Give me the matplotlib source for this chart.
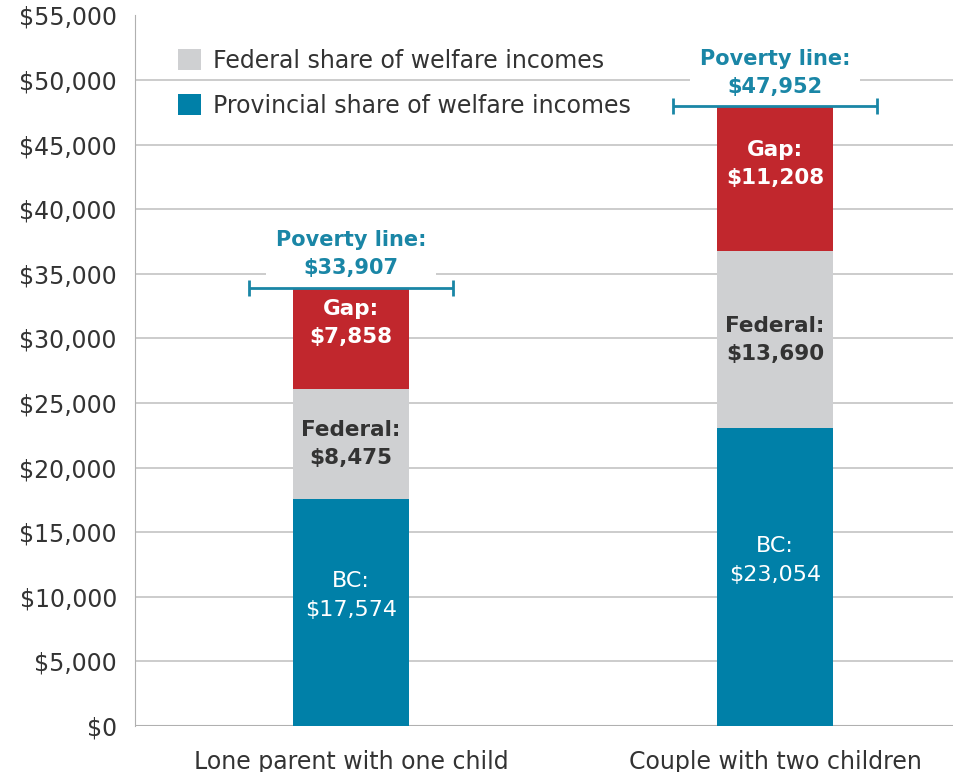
import matplotlib.pyplot as plt
from matplotlib.patches import Patch
from matplotlib.ticker import FuncFormatter

categories = ["Lone parent with one child", "Couple with two children"]
provincial = [17574, 23054]
federal = [8475, 13690]
gap = [7858, 11208]
poverty_line = [33907, 47952]

teal = "#0080a8"
grey = "#cfd0d2"
red = "#c1272d"
label_teal = "#1a86a6"

plt.rcParams["font.family"] = ["DejaVu Sans"]

fig = plt.figure(figsize=(9.54, 7.72), dpi=100)
ax = fig.add_axes([0.1415, 0.0596, 0.8585, 0.9205])

x = list(range(len(categories)))
width = 0.274

ax.bar(x, provincial, width, color=teal, zorder=3)
ax.bar(x, federal, width, bottom=provincial, color=grey, zorder=3)
bottoms = [p + f for p, f in zip(provincial, federal)]
ax.bar(x, gap, width, bottom=bottoms, color=red, zorder=3)

for i in x:
    ax.annotate(f"BC:\n${provincial[i]:,}", (i, provincial[i] / 2), xytext=(0, 12),
                textcoords="offset points", ha="center", va="center",
                color="white", fontsize=16, linespacing=1.55, zorder=4)
    ax.annotate(f"Federal:\n${federal[i]:,}", (i, provincial[i] + federal[i] / 2),
                ha="center", va="center", color="#333333", fontsize=15.5,
                fontweight="bold", linespacing=1.5, zorder=4)
    ax.annotate(f"Gap:\n${gap[i]:,}", (i, bottoms[i] + gap[i] / 2), xytext=(0, 11),
                textcoords="offset points", ha="center", va="center",
                color="white", fontsize=15.5, fontweight="bold", linespacing=1.5, zorder=4)

    # poverty line marker
    ax.errorbar(i, poverty_line[i], xerr=0.24, fmt="none", ecolor=label_teal,
                elinewidth=2, capsize=6, capthick=2, zorder=5)
    ax.annotate(f"Poverty line:\n${poverty_line[i]:,}", (i, poverty_line[i]),
                xytext=(0, 7), textcoords="offset points", ha="center", va="bottom",
                color=label_teal, fontsize=15, fontweight="bold", linespacing=1.5,
                bbox=dict(facecolor="white", edgecolor="none", pad=7), zorder=4)

ax.set_xlim(-0.509, 1.422)
ax.set_ylim(0, 55000)
ax.set_yticks(range(0, 55001, 5000))
ax.yaxis.set_major_formatter(FuncFormatter(lambda v, p: f"${int(v):,}"))
ax.set_xticks(x)
ax.set_xticklabels(categories)
ax.tick_params(axis="both", length=0, labelsize=17, colors="#333333")
ax.tick_params(axis="x", pad=17)
ax.tick_params(axis="y", pad=13)

ax.yaxis.grid(True, color="#c4c4c4", linewidth=1.2, zorder=0)
ax.get_ygridlines()[-1].set_visible(False)
ax.set_axisbelow(True)
for side in ["top", "right", "bottom"]:
    ax.spines[side].set_visible(False)
ax.spines["left"].set_color("#b0b0b0")
ax.axhline(0, color="#b0b0b0", linewidth=1.5, zorder=2)

handles = [Patch(facecolor=grey, label="Federal share of welfare incomes"),
           Patch(facecolor=teal, label="Provincial share of welfare incomes")]
ax.legend(handles=handles, loc="upper left", bbox_to_anchor=(0.026, 0.983), frameon=False,
          fontsize=17, handlelength=1.0, handleheight=1.0, handletextpad=0.5,
          labelspacing=0.9, labelcolor="#333333")

fig.savefig("out.png", dpi=100)
